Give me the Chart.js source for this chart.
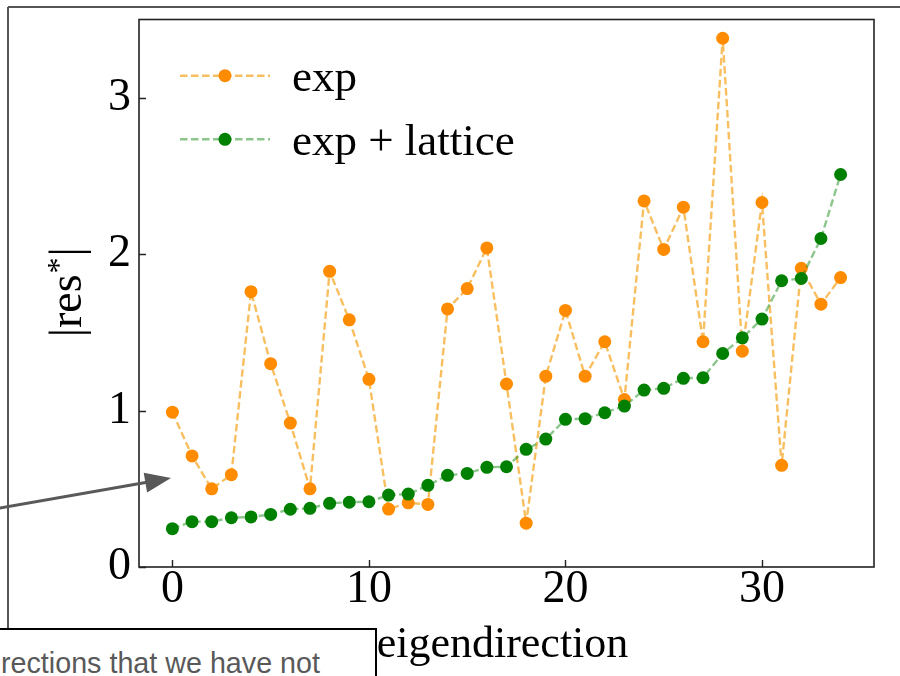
<!DOCTYPE html>
<html>
<head>
<meta charset="utf-8">
<title>Residuals per eigendirection</title>
<script src="https://cdn.jsdelivr.net/npm/chart.js@4.4.1/dist/chart.umd.min.js"></script>
<style>
  html, body { margin: 0; padding: 0; background: #fff; overflow: hidden; }
  #wrap { position: relative; width: 900px; height: 676px; }
  #plot { position: absolute; left: 0; top: 0; }
  #overlay { position: absolute; left: 0; top: 0; pointer-events: none; }
</style>
</head>
<body>
<div id="wrap">
  <canvas id="plot" width="900" height="676"></canvas>
  <svg id="overlay" width="900" height="676" viewBox="0 0 900 676">
    <!-- slide frame -->
    <path d="M8 7 H900 M8 7 V629" stroke="#555" stroke-width="2" fill="none"/>
    <!-- callout arrow -->
    <line x1="-4" y1="508.7" x2="147" y2="482.2" stroke="#595959" stroke-width="3"/>
    <polygon points="171,478 147.1,492.4 143.7,472.7" fill="#595959"/>
    <!-- note box -->
    <rect x="-3" y="629" width="379" height="60" fill="#fff" stroke="#000" stroke-width="2"/>
    <text x="1" y="673" font-family="'Liberation Sans', Arial, sans-serif" font-size="28.7" fill="#595959">rections that we have not</text>
  </svg>
</div>
<script>
// eigendirection index
const directions = [0, 1, 2, 3, 4, 5, 6, 7, 8, 9, 10, 11, 12, 13, 14, 15, 16, 17,
                    18, 19, 20, 21, 22, 23, 24, 25, 26, 27, 28, 29, 30, 31, 32, 33, 34];

// |res*| using the exponential fit only
const resExp = [0.99, 0.71, 0.50, 0.59, 1.76, 1.30, 0.92, 0.50, 1.89, 1.58,
                1.20, 0.37, 0.41, 0.40, 1.65, 1.78, 2.04, 1.17, 0.28, 1.22,
                1.64, 1.22, 1.44, 1.07, 2.34, 2.03, 2.30, 1.44, 3.38, 1.38,
                2.33, 0.65, 1.91, 1.68, 1.85];

// |res*| using the exponential fit plus lattice input
const resExpLattice = [0.245, 0.29, 0.29, 0.315, 0.32, 0.336, 0.369, 0.375, 0.407, 0.414,
                       0.417, 0.46, 0.466, 0.522, 0.586, 0.598, 0.637, 0.641, 0.752, 0.818,
                       0.944, 0.948, 0.986, 1.029, 1.131, 1.142, 1.206, 1.21, 1.365, 1.465,
                       1.585, 1.83, 1.845, 2.10, 2.509];

const seriesNames = ['exp', 'exp + lattice'];
const xTickValues = [0, 10, 20, 30];
const yTickValues = [0, 1, 2, 3];
const xAxisLabel = 'eigendirection';

const SERIF = "'Liberation Serif', 'Times New Roman', serif";

// frame, inward ticks, axis titles and legend
const decorations = {
  id: 'decorations',
  afterDraw(chart) {
    const ctx = chart.ctx;
    const { left, right, top, bottom } = chart.chartArea;
    const xs = chart.scales.x, ys = chart.scales.y;
    ctx.save();

    // inward tick marks
    ctx.strokeStyle = '#222';
    ctx.lineWidth = 1.4;
    ctx.beginPath();
    xTickValues.forEach(v => {
      const px = Math.round(xs.getPixelForValue(v)) + 0.5;
      ctx.moveTo(px, bottom);
      ctx.lineTo(px, bottom - 7);
    });
    yTickValues.forEach(v => {
      const py = Math.round(ys.getPixelForValue(v)) + 0.5;
      ctx.moveTo(left, py);
      ctx.lineTo(left + 7, py);
    });
    ctx.stroke();

    // axes frame
    ctx.lineWidth = 1.6;
    ctx.strokeRect(left, top, right - left, bottom - top);

    // x axis title
    ctx.fillStyle = '#000';
    ctx.font = '44px ' + SERIF;
    ctx.textAlign = 'center';
    ctx.textBaseline = 'alphabetic';
    ctx.fillText(xAxisLabel, (left + right) / 2 - 4, 657);

    // y axis title |res*|
    ctx.save();
    ctx.translate(81, (top + bottom) / 2);
    ctx.rotate(-Math.PI / 2);
    const big = '46px ' + SERIF, small = '32px ' + SERIF;
    ctx.textAlign = 'left';
    ctx.font = big;
    const w1 = ctx.measureText('|res').width;
    const w3 = ctx.measureText('|').width;
    ctx.font = small;
    const w2 = ctx.measureText('*').width;
    const x0 = -(w1 + w2 + w3) / 2;
    ctx.font = big;
    ctx.fillText('|res', x0, 0);
    ctx.font = small;
    ctx.fillText('*', x0 + w1 + 1, -12);
    ctx.font = big;
    ctx.fillText('|', x0 + w1 + w2 + 2, 0);
    ctx.restore();

    // legend
    const rows = [75.7, 139.3];
    chart.data.datasets.forEach((ds, i) => {
      const y = rows[i];
      ctx.save();
      ctx.strokeStyle = ds.borderColor;
      ctx.lineWidth = ds.borderWidth;
      ctx.setLineDash(ds.borderDash);
      ctx.beginPath();
      ctx.moveTo(180, y);
      ctx.lineTo(270, y);
      ctx.stroke();
      ctx.setLineDash([]);
      ctx.fillStyle = ds.pointBackgroundColor;
      ctx.beginPath();
      ctx.arc(225, y, ds.pointRadius, 0, Math.PI * 2);
      ctx.fill();
      ctx.restore();
      ctx.fillStyle = '#000';
      ctx.font = '45px ' + SERIF;
      ctx.textAlign = 'left';
      ctx.textBaseline = 'alphabetic';
      ctx.fillText(ds.label, 292, y + 15.5);
    });

    ctx.restore();
  }
};

const toPoints = ys => directions.map((d, i) => ({ x: d, y: ys[i] }));

new Chart(document.getElementById('plot'), {
  type: 'line',
  data: {
    datasets: [
      {
        label: seriesNames[0],
        data: toPoints(resExp),
        borderColor: 'rgba(247, 184, 80, 0.9)',
        borderWidth: 2.4,
        borderDash: [7.5, 3.5],
        pointRadius: 6.5,
        pointBackgroundColor: '#ff8c00',
        pointBorderColor: '#ff8c00',
        pointBorderWidth: 0,
        fill: false,
        tension: 0,
        order: 2
      },
      {
        label: seriesNames[1],
        data: toPoints(resExpLattice),
        borderColor: 'rgba(0, 128, 0, 0.45)',
        borderWidth: 2.4,
        borderDash: [7.5, 3.5],
        pointRadius: 6.5,
        pointBackgroundColor: '#008000',
        pointBorderColor: '#008000',
        pointBorderWidth: 0,
        fill: false,
        tension: 0,
        order: 1
      }
    ]
  },
  options: {
    responsive: false,
    animation: false,
    events: [],
    layout: { padding: { left: 0, right: 26, top: 19.5, bottom: 0 } },
    plugins: { legend: { display: false }, tooltip: { enabled: false } },
    scales: {
      x: {
        type: 'linear',
        min: -1.7,
        max: 35.7,
        grid: { display: false, drawTicks: false, tickLength: 0 },
        border: { display: false },
        afterBuildTicks: s => { s.ticks = xTickValues.map(v => ({ value: v })); },
        afterFit: s => { s.height = 109; s.paddingLeft = 0; s.paddingRight = 0; },
        ticks: {
          autoSkip: false,
          maxRotation: 0,
          padding: 0,
          color: '#000',
          font: { family: SERIF, size: 46, lineHeight: 1 }
        }
      },
      y: {
        type: 'linear',
        min: 0,
        max: 3.5,
        grid: { display: false, drawTicks: false, tickLength: 0 },
        border: { display: false },
        afterBuildTicks: s => { s.ticks = yTickValues.map(v => ({ value: v })); },
        afterFit: s => { s.width = 139; s.paddingTop = 0; s.paddingBottom = 0; },
        ticks: {
          padding: 8,
          color: '#000',
          font: { family: SERIF, size: 46, lineHeight: 1 }
        }
      }
    }
  },
  plugins: [decorations]
});
</script>
</body>
</html>
